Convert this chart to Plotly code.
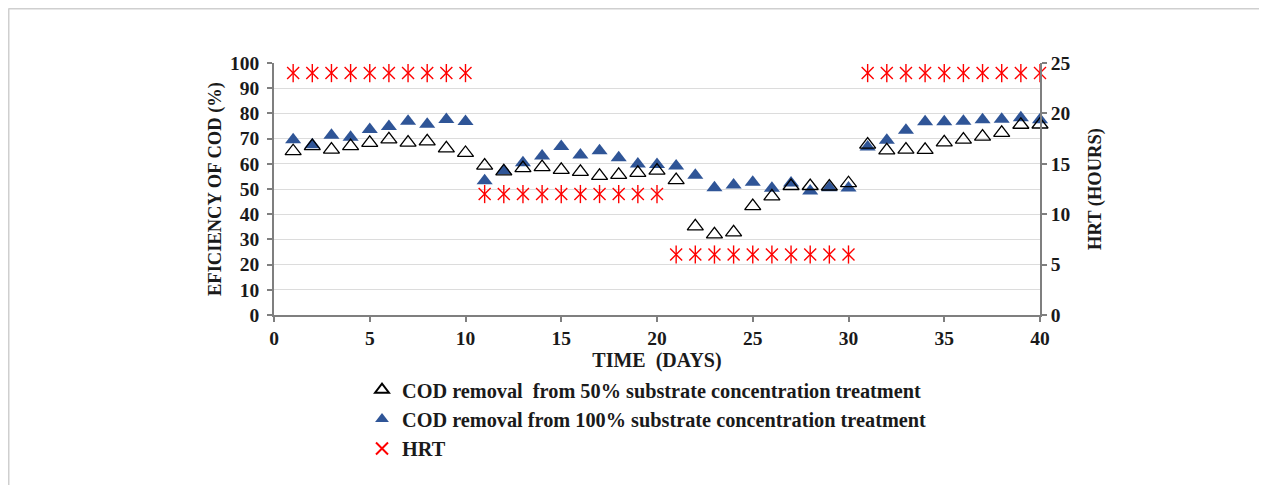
import plotly.graph_objects as go

days = list(range(1, 41))

cod_50 = [65, 67, 65.6, 67, 68.3, 69.7, 68.4, 68.9, 66.1, 64.3,
          59.3, 57, 58.3, 58.7, 57.6, 56.8, 55.2, 55.6, 56.4, 57.3,
          53.5, 35.2, 32, 32.8, 43.2, 47.1, 51.2, 51.2, 51, 52.3,
          67.6, 65.3, 65.6, 65.5, 68.5, 69.6, 70.8, 72.3, 75.5, 75.6]

cod_100 = [69.5, 67.6, 71.3, 70.5, 73.6, 74.8, 76.9, 75.7, 77.6, 76.8,
           53.3, 57.2, 60.4, 63.1, 66.9, 63.5, 65.2, 62.4, 59.9, 59.7,
           59.1, 55.5, 50.5, 51.6, 52.7, 50.3, 52.4, 49.2, 50.5, 50.4,
           66.7, 69.3, 73.3, 76.7, 76.7, 76.9, 77.5, 77.7, 78.3, 77.5]

hrt = [24] * 10 + [12] * 10 + [6] * 10 + [24] * 10

name_50 = "COD removal  from 50% substrate concentration treatment"
name_100 = "COD removal from 100% substrate concentration treatment"
name_hrt = "HRT"

FONT = "Liberation Serif, Times New Roman, serif"
TXT = "#1a1a1a"
AX = "#7f7f7f"

fig = go.Figure()

fig.add_trace(go.Scatter(
    x=days, y=cod_100, mode="markers", name=name_100, legendrank=2,
    cliponaxis=False,
    marker=dict(symbol="triangle-up", size=14, color="#2F5597",
                line=dict(width=0)),
))
fig.add_trace(go.Scatter(
    x=days, y=cod_50, mode="markers", name=name_50, legendrank=1,
    cliponaxis=False,
    marker=dict(symbol="triangle-up-open", size=14, color="#000000",
                line=dict(width=1.3, color="#000000")),
))
fig.add_trace(go.Scatter(
    x=days, y=hrt, mode="markers", name=name_hrt, yaxis="y2", legendrank=3,
    cliponaxis=False,
    marker=dict(symbol="x-thin-open", size=12, color="#FF0000",
                line=dict(width=1.4, color="#FF0000")),
))
fig.add_trace(go.Scatter(
    x=days, y=hrt, mode="markers", name=name_hrt, yaxis="y2", showlegend=False,
    cliponaxis=False,
    marker=dict(symbol="line-ns-open", size=13, color="#FF0000",
                line=dict(width=1.4, color="#FF0000")),
))

# page is offset by the 8px body margin; work in page pixels, convert
OFF = 8
W, H = 1267 - 2 * OFF, 493 - 2 * OFF
L, R, T, B = 274 - OFF, 1040 - OFF, 63 - OFF, 315 - OFF


def px2x(px):
    return (px - OFF - L) / (R - L)


def px2y(py):
    return (B - (py - OFF)) / (B - T)


fig.update_layout(
    width=W, height=H,
    margin=dict(l=L, r=W - R, t=T, b=H - B, pad=0),
    paper_bgcolor="white", plot_bgcolor="white",
    font=dict(family=FONT, size=19, color=TXT),
    xaxis=dict(
        range=[0, 40], tick0=0, dtick=5, showgrid=False, zeroline=False,
        showline=True, linecolor=AX, linewidth=1.5,
        ticks="outside", ticklen=5, tickcolor=AX, tickwidth=1.5,
        tickfont=dict(family=FONT, size=19.5, color=TXT, weight="bold"),
        title=dict(text="TIME  (DAYS)", standoff=0,
                   font=dict(family=FONT, size=20, color=TXT, weight="bold")),
    ),
    yaxis=dict(
        range=[0, 100], tick0=0, dtick=10, showgrid=True, gridcolor="#dcdcdc",
        gridwidth=1.3, zeroline=False,
        showline=True, linecolor=AX, linewidth=1.5,
        ticks="outside", ticklen=5, tickcolor=AX, tickwidth=1.5,
        ticklabelstandoff=4,
        tickfont=dict(family=FONT, size=19.5, color=TXT, weight="bold"),
        title=dict(text="EFICIENCY OF COD (%)", standoff=4,
                   font=dict(family=FONT, size=18.5, color=TXT, weight="bold")),
    ),
    yaxis2=dict(
        range=[0, 25], tick0=0, dtick=5, overlaying="y", side="right",
        showgrid=False, zeroline=False,
        showline=True, linecolor=AX, linewidth=1.5,
        ticks="outside", ticklen=5, tickcolor=AX, tickwidth=1.5,
        ticklabelstandoff=0,
        tickfont=dict(family=FONT, size=19.5, color=TXT, weight="bold"),
        title=dict(text="HRT (HOURS)", standoff=19,
                   font=dict(family=FONT, size=18.5, color=TXT, weight="bold")),
    ),
    legend=dict(
        x=px2x(362), y=px2y(370), xanchor="left", yanchor="top",
        orientation="v", bgcolor="rgba(0,0,0,0)",
        font=dict(family=FONT, size=20.3, color=TXT, weight="bold"),
        itemsizing="constant", tracegroupgap=0, itemwidth=30,
    ),
    showlegend=True,
    shapes=[
        dict(type="line", xref="paper", yref="paper",
             x0=px2x(8.5), x1=px2x(1267), y0=px2y(8.5), y1=px2y(8.5),
             line=dict(color="#cfcfcf", width=2)),
        dict(type="line", xref="paper", yref="paper",
             x0=px2x(8.5), x1=px2x(8.5), y0=px2y(8.5), y1=px2y(493),
             line=dict(color="#cfcfcf", width=2)),
    ],
)

fig.write_html("out.html")
